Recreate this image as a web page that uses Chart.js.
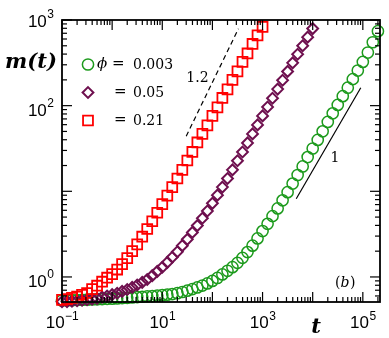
<!DOCTYPE html>
<html><head><meta charset="utf-8">
<script src="https://cdn.jsdelivr.net/npm/chart.js@4/dist/chart.umd.min.js"></script>
<style>html,body{margin:0;padding:0;background:#fff;}#wrap{width:389px;height:338px;}</style>
</head><body><div id="wrap"><canvas id="c" width="389" height="338"></canvas></div>
<script>
// ---- data ----
const tGrid = [0.1,0.126,0.158,0.2,0.251,0.316,0.398,0.501,0.631,0.794,
  1,1.26,1.58,2.0,2.51,3.16,3.98,5.01,6.31,7.94,
  10,12.6,15.8,20,25.1,31.6,39.8,50.1,63.1,79.4,
  100,126,158,200,251,316,398,501,631,794,
  1000,1260,1580,2000,2510,3160,3980,5010,6310,7940,
  10000,12600,15800,20000,25100,31600,39800,50100,63100,79400,
  100000,126000,158000,200000];
const phiValues = ['0.003','0.05','0.21'];
const mGreen = [0.531,0.533,0.536,0.538,0.541,0.543,0.546,0.548,0.551,0.555,
  0.558,0.562,0.566,0.571,0.577,0.582,0.587,0.593,0.598,0.605,
  0.612,0.621,0.631,0.646,0.667,0.692,0.721,0.755,0.794,0.841,
  0.899,0.973,1.07,1.18,1.30,1.46,1.67,1.95,2.32,2.82,
  3.43,4.17,5.13,6.31,7.85,9.77,12.3,15.5,19.5,25.1,
  31.6,39.8,50.1,64.6,81.3,102,129,162,204,257,
  324,417,550,741];
const mPurple = [0.513,0.516,0.521,0.527,0.535,0.542,0.551,0.561,0.581,0.600,
  0.622,0.646,0.679,0.714,0.755,0.805,0.865,0.933,1.035,1.16,
  1.30,1.48,1.70,1.97,2.32,2.75,3.31,3.98,4.84,5.89,
  7.24,9.02,11.2,14.1,17.8,22.7,28.8,36.7,46.8,59.6,
  75.9,96.4,122,156,198,251,316,398,501,631,
  794];
const mRed = [0.54,0.55,0.57,0.59,0.62,0.65,0.72,0.79,0.88,0.98,
  1.08,1.22,1.41,1.66,2.0,2.4,2.95,3.63,4.47,5.62,
  7.08,8.91,11.2,14.1,17.8,22.9,28.8,37.2,46.8,58.9,
  75.9,95.5,123,155,200,251,324,407,525,661,
  832];
const guide12 = [{x:30,y:44},{x:330,y:790}];
const guide1 = [{x:4700,y:8.2},{x:91000,y:162}];
const xTickExps = [-1,1,3,5];
const yTickExps = [0,2,3];

const GREEN='#1c9a1c', PURPLE='#6e0f4e', RED='#ff0000';
const pts = (m)=>m.map((v,i)=>({x:tGrid[i],y:v}));

const styles = [
  {style:'circle', r:5.6, color:GREEN, lw:1.5},
  {style:'rectRot', r:5.4, color:PURPLE, lw:2},
  {style:'rect', r:7.0, color:RED, lw:1.8}
];

function drawMarker(ctx,s,x,y){
  ctx.save();ctx.strokeStyle=s.color;ctx.lineWidth=s.lw;ctx.beginPath();
  if(s.style==='circle') ctx.arc(x,y,s.r,0,Math.PI*2);
  else if(s.style==='rectRot'){ctx.moveTo(x,y-s.r);ctx.lineTo(x+s.r,y);ctx.lineTo(x,y+s.r);ctx.lineTo(x-s.r,y);ctx.closePath();}
  else {const h=s.r*Math.SQRT1_2;ctx.rect(x-h,y-h,2*h,2*h);}
  ctx.stroke();ctx.restore();
}

const SANS='"Liberation Sans", Arial, sans-serif';
const SERIF='"DejaVu Serif", serif';

const framePlugin = {
  id:'frame',
  beforeDraw(chart){const c=chart.ctx;c.save();c.fillStyle='#fff';c.fillRect(0,0,chart.width,chart.height);c.restore();},
  afterDatasetsDraw(chart){
    const ctx=chart.ctx, a=chart.chartArea, x=chart.scales.x, y=chart.scales.y;
    ctx.save();
    ctx.strokeStyle='#000';ctx.lineWidth=1.2;
    const seg=(x1,y1,x2,y2)=>{ctx.beginPath();ctx.moveTo(x1,y1);ctx.lineTo(x2,y2);ctx.stroke();};
    for(let e=-1;e<=5;e++)for(let k=1;k<=9;k++){
      const v=k*Math.pow(10,e); if(v<x.min*0.999||v>x.max) continue;
      const p=x.getPixelForValue(v), L=k===1?10:5;
      seg(p,a.bottom,p,a.bottom-L); seg(p,a.top,p,a.top+L);
    }
    for(let e=-1;e<=3;e++)for(let k=1;k<=9;k++){
      const v=k*Math.pow(10,e); if(v<y.min||v>y.max*1.001) continue;
      const p=y.getPixelForValue(v), L=k===1?10:5;
      seg(a.left,p,a.left+L,p); seg(a.right,p,a.right-L,p);
    }
    ctx.lineWidth=1.8;
    ctx.strokeRect(a.left,a.top,a.right-a.left,a.bottom-a.top);
    // tick labels
    ctx.fillStyle='#000';ctx.textBaseline='alphabetic';
    const bF='17px '+SANS, eF='12px '+SANS;
    xTickExps.forEach(e=>{
      const p=x.getPixelForValue(Math.pow(10,e));
      ctx.font=bF;const wb=ctx.measureText('10').width;
      ctx.font=eF;const es=(e<0?'\u2212':'')+Math.abs(e);const we=ctx.measureText(es).width;
      const x0=p-(wb+we)/2;
      ctx.font=bF;ctx.textAlign='left';ctx.fillText('10',x0,328);
      ctx.font=eF;ctx.fillText(es,x0+wb+0.5,320);
    });
    yTickExps.forEach(e=>{
      const p=y.getPixelForValue(Math.pow(10,e));
      const bl = (e===3)? p+7 : p+10.5;
      ctx.font=eF;const es=String(e);const we=ctx.measureText(es).width;
      const xr=a.left-8;
      ctx.textAlign='right';ctx.fillText(es,xr,bl-9);
      ctx.font=bF;ctx.fillText('10',xr-we-0.5,bl);
    });
    // axis titles
    ctx.font='bold italic 21px '+SERIF;ctx.textAlign='center';
    ctx.fillText('m(t)',31,68);
    ctx.fillText('t',316,333);
    // annotations
    ctx.font='14px '+SERIF;
    ctx.fillText('1.2',197.5,82);
    ctx.fillText('1',335,162);
    ctx.textAlign='left';
    ctx.fillText('(',335,287);
    ctx.font='italic 14px '+SERIF;ctx.fillText('b',340.5,287);
    ctx.font='14px '+SERIF;ctx.fillText(')',350,287);
    // legend
    const rows=[64.5,92.5,120.5];
    [0,1,2].forEach((i,row)=>{
      const yy=rows[row];
      drawMarker(ctx,styles[i],88,yy);
      ctx.textBaseline='middle';ctx.textAlign='left';
      if(row===0){ctx.font='italic 15px '+SERIF;ctx.fillText('\u03D5',97,yy);}
      ctx.font='15px '+SERIF;
      ctx.fillText('=',row===0?112:114,yy);
      ctx.font='14px '+SERIF;
      ctx.fillText(phiValues[i],133,yy+0.5);
    });
    ctx.restore();
  }
};

const ds=(m,i,ord)=>({data:pts(m),showLine:false,pointStyle:styles[i].style,pointRadius:styles[i].r,
  pointBorderColor:styles[i].color,pointBackgroundColor:'rgba(0,0,0,0)',pointBorderWidth:styles[i].lw,
  borderColor:styles[i].color,clip:false,order:ord});

new Chart(document.getElementById('c'),{
  type:'scatter',
  data:{datasets:[
    ds(mGreen,0,3), ds(mPurple,1,2), ds(mRed,2,1),
    {data:guide12,showLine:true,pointRadius:0,borderColor:'#000',borderWidth:1.2,borderDash:[5,3.5],order:0},
    {data:guide1,showLine:true,pointRadius:0,borderColor:'#000',borderWidth:1.2,order:0}
  ]},
  options:{
    responsive:false,animation:false,devicePixelRatio:1,events:[],
    layout:{padding:{left:62,right:9,top:20,bottom:36}},
    plugins:{legend:{display:false},tooltip:{enabled:false}},
    scales:{
      x:{type:'logarithmic',min:0.1,max:220000,display:false},
      y:{type:'logarithmic',min:0.51,max:1000,display:false}
    }
  },
  plugins:[framePlugin]
});
</script></body></html>
